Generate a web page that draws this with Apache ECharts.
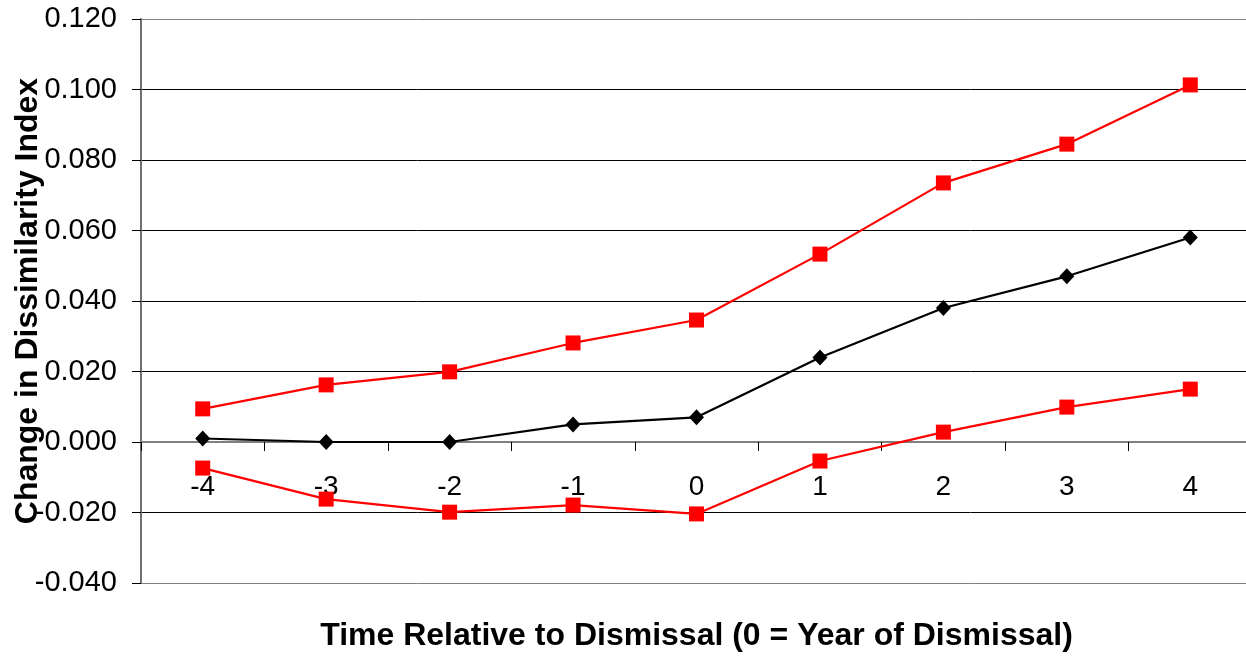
<!DOCTYPE html>
<html>
<head>
<meta charset="utf-8">
<script src="https://cdn.jsdelivr.net/npm/echarts@6/dist/echarts.min.js"></script>
<style>
  html, body { margin: 0; padding: 0; background: #fff; }
  #chart { width: 1246px; height: 656px; }
</style>
</head>
<body>
<div id="chart"></div>
<script>
// Years relative to the dismissal year
const years = ['-4', '-3', '-2', '-1', '0', '1', '2', '3', '4'];
// Point estimate of the change in the dissimilarity index
const estimate = [0.001, 0.000, 0.000, 0.005, 0.007, 0.024, 0.038, 0.047, 0.058];
// Upper and lower confidence bounds
const upperBound = [0.0094, 0.0162, 0.0199, 0.0281, 0.0346, 0.0533, 0.0735, 0.0845, 0.1013];
const lowerBound = [-0.0074, -0.0162, -0.0199, -0.0179, -0.0204, -0.0054, 0.0028, 0.0099, 0.0150];

const FONT = '"Liberation Sans", Arial, sans-serif';
const chart = echarts.init(document.getElementById('chart'));

const boundSeries = (name, data) => ({
  name, type: 'line', data,
  symbol: 'rect', symbolSize: 15,
  lineStyle: { color: '#ff0000', width: 2.2 },
  itemStyle: { color: '#ff0000' },
  z: 3
});

chart.setOption({
  animation: false,
  grid: { left: 141, right: -6, top: 19, bottom: 73, containLabel: false, outerBoundsMode: 'none' },
  xAxis: {
    type: 'category',
    data: years,
    boundaryGap: true,
    name: 'Time Relative to Dismissal (0 = Year of Dismissal)',
    nameLocation: 'middle',
    nameGap: 37,
    nameMoveOverlap: false,
    nameTextStyle: { fontFamily: FONT, fontSize: 32, fontWeight: 'bold', color: '#000' },
    axisLine: { onZero: true, lineStyle: { color: '#808080', width: 2 } },
    axisTick: { show: true, length: 9, inside: false, lineStyle: { color: '#000', width: 1 } },
    // tick labels sit just under the zero line
    axisLabel: { fontFamily: FONT, fontSize: 28, color: '#000', margin: -110 },
    splitLine: { show: false }
  },
  yAxis: {
    type: 'value',
    min: -0.04, max: 0.12, interval: 0.02,
    name: 'Change in Dissimilarity Index',
    nameLocation: 'middle',
    nameGap: 97,
    nameMoveOverlap: false,
    nameRotate: 90,
    nameTextStyle: { fontFamily: FONT, fontSize: 32, fontWeight: 'bold', color: '#000' },
    axisLine: { show: true, lineStyle: { color: '#707070', width: 2 } },
    axisTick: { show: true, length: 9, lineStyle: { color: '#000', width: 1 } },
    axisLabel: {
      fontFamily: FONT, fontSize: 29, color: '#000', margin: 24,
      formatter: v => v.toFixed(3)
    },
    splitLine: {
      show: true,
      lineStyle: {
        color: ['#808080', '#000', '#808080', '#000', '#000', '#000', '#000', '#000', '#808080'],
        width: 1
      }
    }
  },
  series: [
    boundSeries('Upper bound', upperBound),
    boundSeries('Lower bound', lowerBound),
    {
      name: 'Estimate', type: 'line', data: estimate,
      symbol: 'diamond', symbolSize: [15, 16],
      lineStyle: { color: '#000', width: 2.2 },
      itemStyle: { color: '#000' },
      z: 4
    }
  ]
});
</script>
</body>
</html>
